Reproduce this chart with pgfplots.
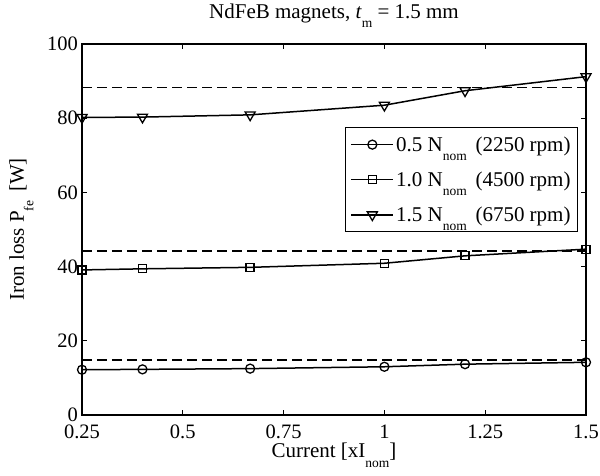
\documentclass[border=0pt]{standalone}
\usepackage{fontspec}
\setmainfont{Liberation Serif}
\usepackage{pgfplots}
\pgfplotsset{compat=1.18}
\newcommand\sub[1]{\raisebox{-9.5pt}{\fontsize{13.5}{13.5}\selectfont #1}}
\begin{document}
\begin{tikzpicture}
\begin{axis}[
  name=ax,
  scale only axis, width=504pt, height=371pt,
  xmin=0.25, xmax=1.5, ymin=0, ymax=100,
  xtick={0.25,0.5,0.75,1,1.25,1.5},
  xticklabels={0.25,0.5,0.75,1,1.25,1.5},
  ytick={0,20,40,60,80,100},
  tick align=inside, xtick pos=both, ytick pos=both,
  major tick length=5pt,
  tick style={line width=0.8pt, black},
  axis line style={line width=1.2pt},
  font=\fontsize{21}{24}\selectfont,
  tick label style={font=\fontsize{20.5}{23}\selectfont},
  /pgf/number format/assume math mode=true,
  yticklabel style={anchor=east, inner sep=0pt, xshift=-4pt},
  xticklabel style={anchor=north, inner sep=0pt, yshift=-10pt},
  title={NdFeB magnets, \textit{t}\sub{m} = 1.5 mm},
  title style={at={(rel axis cs:0.5,1)}, anchor=base, yshift=19.7pt},
  xlabel={Current [xI\sub{nom}]},
  xlabel style={at={(rel axis cs:0.5,0)}, anchor=base, yshift=-43pt, inner sep=0pt},
  ylabel={Iron loss P\sub{fe}\, [W]},
  ylabel style={at={(rel axis cs:0,0.5)}, anchor=base, yshift=58pt},
  legend style={at={(rel axis cs:0.522,0.776)}, anchor=north west,
    draw=black, line width=1pt, font=\fontsize{21}{24}\selectfont,
    inner xsep=5pt, inner ysep=7pt, row sep=15pt},
  legend cell align=left,
  legend image code/.code={\draw[mark repeat=2,mark phase=2,#1] plot coordinates {(0pt,0pt) (21pt,0pt) (42pt,0pt)};},
]
\addplot[black, line width=1.3pt, dash pattern=on 10pt off 5pt, forget plot] coordinates {(0.25,14.8) (1.5,14.8)};
\addplot[black, line width=1.3pt, dash pattern=on 10pt off 5pt, forget plot] coordinates {(0.25,44.2) (1.5,44.2)};
\addplot[black, line width=1.3pt, dash pattern=on 10pt off 5pt, forget plot] coordinates {(0.25,88.2) (1.5,88.2)};
\addplot[black, line width=1.5pt, mark=o, mark size=4.5pt, mark options={line width=1.3pt, solid}] coordinates {
(0.25,12.2) (0.4,12.3) (0.667,12.5) (1.0,13.0) (1.2,13.7) (1.5,14.2)};
\addlegendentry{0.5 N\sub{nom}\, (2250 rpm)}
\addplot[black, line width=1.5pt, mark=square, mark size=4pt, mark options={line width=1.3pt, solid}] coordinates {
(0.25,39.1) (0.4,39.4) (0.667,39.8) (1.0,40.9) (1.2,42.9) (1.5,44.7)};
\addlegendentry{1.0 N\sub{nom}\, (4500 rpm)}
\addplot[black, line width=1.5pt, mark=triangle, mark size=5.8pt, mark options={line width=1.3pt, solid, rotate=180}] coordinates {
(0.25,80.2) (0.4,80.3) (0.667,80.9) (1.0,83.5) (1.2,87.4) (1.5,91.2)};
\addlegendentry{1.5 N\sub{nom}\, (6750 rpm)}
\end{axis}
\pgfresetboundingbox
\path ([xshift=-82pt,yshift=-61pt]ax.south west) rectangle ([xshift=14pt,yshift=44pt]ax.north east);
\end{tikzpicture}
\end{document}
